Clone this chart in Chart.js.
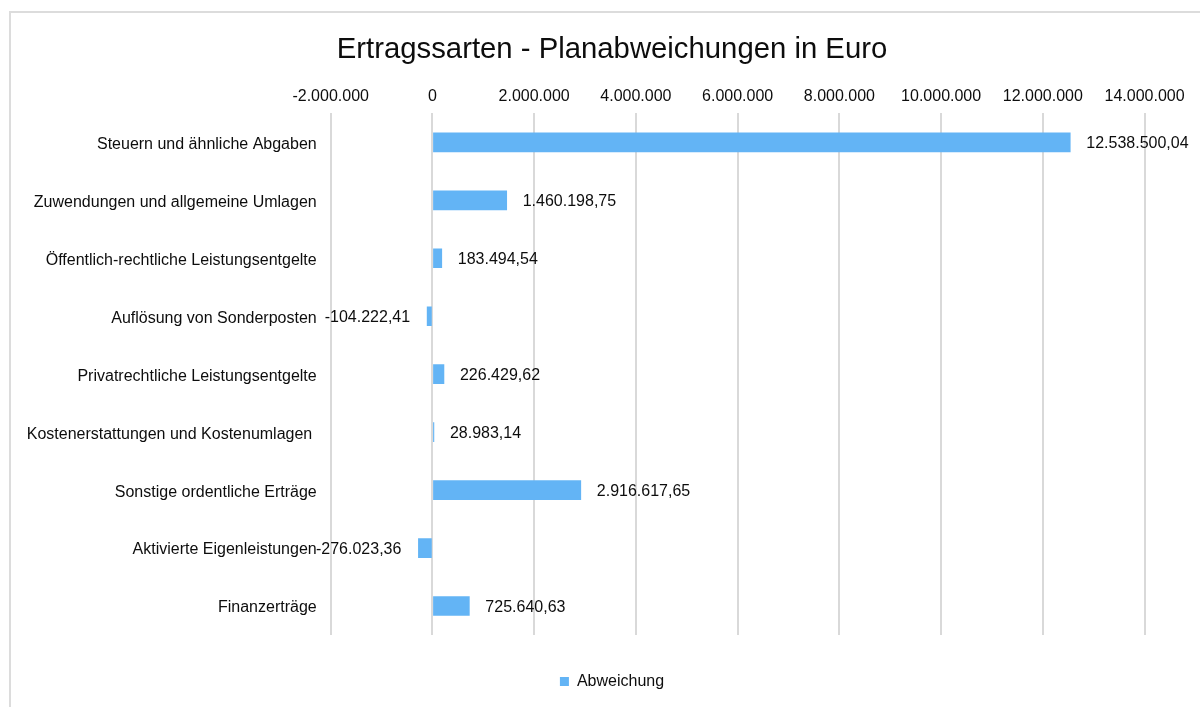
<!DOCTYPE html>
<html>
<head>
<meta charset="utf-8">
<script src="https://cdn.jsdelivr.net/npm/chart.js@4.4.1/dist/chart.umd.min.js"></script>
<style>
  html, body { margin: 0; padding: 0; background: #fff; overflow: hidden; width: 1200px; height: 707px; }
  #wrap { position: relative; width: 1224px; height: 707px; }
  #c { display: block; width: 1224px; height: 707px; }
</style>
</head>
<body>
<div id="wrap"><canvas id="c" width="1224" height="707"></canvas></div>
<script>
const categories = [
  'Steuern und ähnliche Abgaben',
  'Zuwendungen und allgemeine Umlagen',
  'Öffentlich-rechtliche Leistungsentgelte',
  'Auflösung von Sonderposten',
  'Privatrechtliche Leistungsentgelte',
  'Kostenerstattungen und Kostenumlagen ',
  'Sonstige ordentliche Erträge',
  'Aktivierte Eigenleistungen',
  'Finanzerträge'
];
const abweichung = [12538500.04, 1460198.75, 183494.54, -104222.41, 226429.62, 28983.14, 2916617.65, -276023.36, 725640.63];
const seriesName = 'Abweichung';
const chartTitle = 'Ertragssarten - Planabweichungen in Euro';
const xMin = -2000000, xMax = 14000000, xStep = 2000000;

function fmtDE(v, dec) {
  const neg = v < 0;
  const s = Math.abs(v).toFixed(dec);
  let parts = s.split('.');
  let i = parts[0].replace(/\B(?=(\d{3})+(?!\d))/g, '.');
  return (neg ? '-' : '') + i + (parts[1] ? ',' + parts[1] : '');
}

const FONT = "'Liberation Sans', Arial, sans-serif";
const TXT = '#0d0d0d';

const borderPlugin = {
  id: 'frame',
  beforeDraw(chart) {
    const ctx = chart.ctx;
    ctx.save();
    ctx.strokeStyle = '#dcdcdc';
    ctx.lineWidth = 2;
    ctx.strokeRect(10, 12, 1204, 1000);
    ctx.restore();
  }
};

const valueLabels = {
  id: 'valueLabels',
  afterDatasetsDraw(chart) {
    const ctx = chart.ctx;
    const meta = chart.getDatasetMeta(0);
    const data = chart.data.datasets[0].data;
    ctx.save();
    ctx.font = '16px ' + FONT;
    ctx.fillStyle = TXT;
    ctx.textBaseline = 'middle';
    meta.data.forEach((bar, i) => {
      const v = data[i];
      const txt = fmtDE(v, 2);
      if (v >= 0) {
        ctx.textAlign = 'left';
        ctx.fillText(txt, bar.x + 16, bar.y + 1.5);
      } else {
        ctx.textAlign = 'right';
        ctx.fillText(txt, bar.x - 17, bar.y + 1.5);
      }
    });
    ctx.restore();
  }
};

new Chart(document.getElementById('c'), {
  type: 'bar',
  data: {
    labels: categories,
    datasets: [{
      label: seriesName,
      data: abweichung,
      backgroundColor: '#63b4f5',
      borderWidth: 0,
      barThickness: 19,
      xAxisID: 'x',
      yAxisID: 'y'
    }]
  },
  options: {
    indexAxis: 'y',
    responsive: false,
    animation: false,
    devicePixelRatio: 1,
    layout: { padding: { left: 10, right: 10, top: 0, bottom: 7.5 } },
    scales: {
      x: {
        type: 'linear',
        position: 'top',
        min: xMin, max: xMax,
        grid: { color: '#d9d9d9', lineWidth: 2, drawTicks: false },
        border: { display: false },
        ticks: {
          stepSize: xStep,
          padding: 7,
          color: TXT,
          font: { family: FONT, size: 16 },
          maxRotation: 0,
          callback: v => fmtDE(v, 0)
        },
        afterFit: s => { s.height = 45.6; }
      },
      xb: {
        type: 'linear',
        axis: 'x',
        position: 'bottom',
        grid: { display: false, drawTicks: false },
        border: { display: false },
        ticks: { display: false },
        afterFit: s => { s.height = 28.5; }
      },
      y: {
        type: 'category',
        position: 'left',
        grid: { display: false, drawTicks: false },
        border: { display: false },
        ticks: {
          padding: 14,
          labelOffset: 2,
          color: TXT,
          font: { family: FONT, size: 16 },
          autoSkip: false
        },
        afterFit: s => { s.width = 320.7; }
      },
      yr: {
        type: 'linear',
        axis: 'y',
        position: 'right',
        grid: { display: false, drawTicks: false },
        border: { display: false },
        ticks: { display: false },
        afterFit: s => { s.width = 69.4; }
      }
    },
    plugins: {
      title: {
        display: true,
        text: chartTitle,
        color: TXT,
        font: { family: FONT, size: 29.3, weight: 'normal' },
        padding: { top: 32.6, bottom: 0 }
      },
      legend: {
        display: true,
        position: 'bottom',
        labels: {
          boxWidth: 9,
          boxHeight: 9,
          padding: 10,
          color: TXT,
          font: { family: FONT, size: 16 }
        }
      },
      tooltip: { enabled: false }
    }
  },
  plugins: [borderPlugin, valueLabels]
});
</script>
</body>
</html>
